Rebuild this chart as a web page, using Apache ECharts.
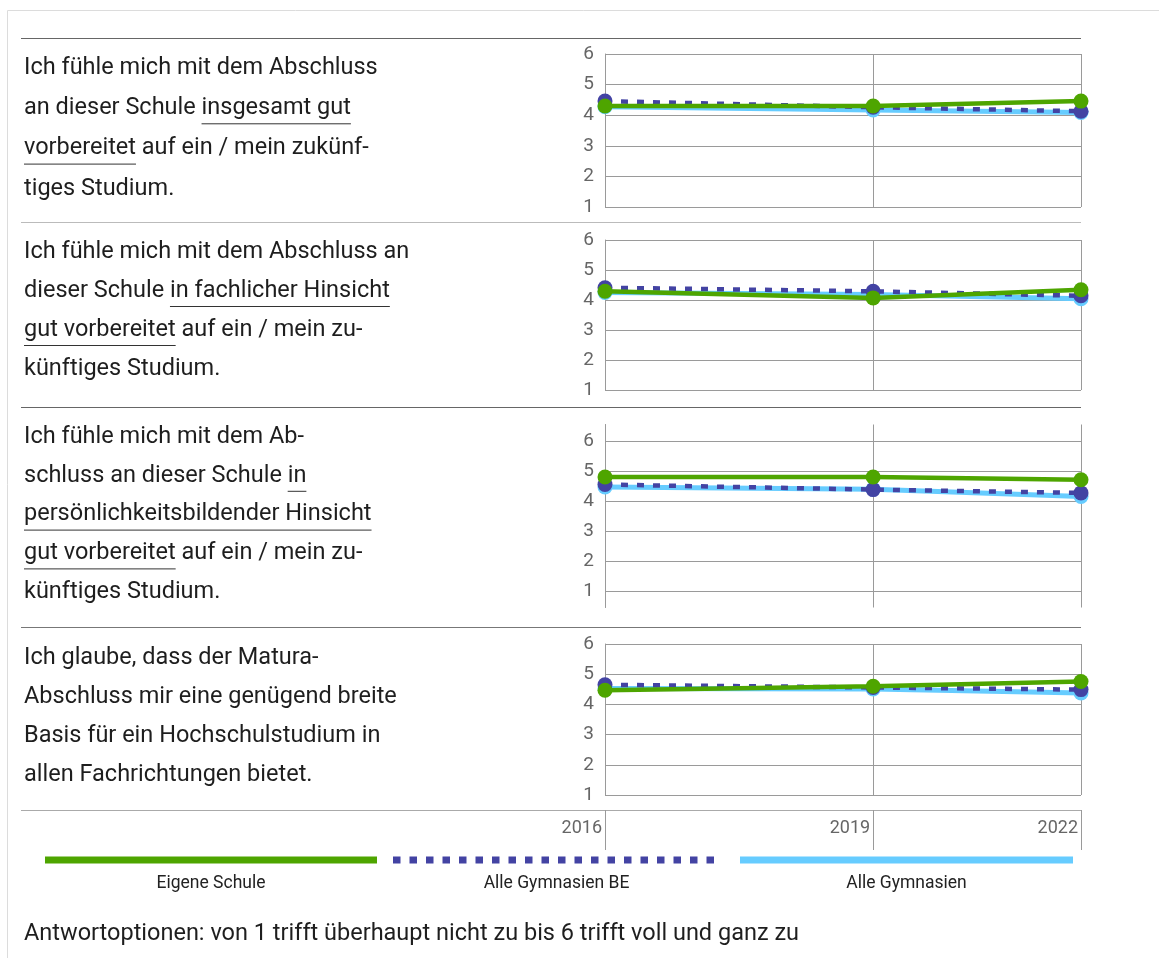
<!DOCTYPE html>
<html>
<head>
<meta charset="utf-8">
<script src="https://cdn.jsdelivr.net/npm/echarts@6/dist/echarts.min.js"></script>
<style>
  html, body { margin: 0; padding: 0; background: #fff; }
  #chart { width: 1159px; height: 958px; }
</style>
</head>
<body>
<div id="chart"></div>
<script>
// ---- data ----
const years = ["2016", "2019", "2022"];
const yearPos = [2016, 2019.38, 2022]; // where the survey points sit on the time line
const yTicks = [1, 2, 3, 4, 5, 6];
const seriesNames = ["Eigene Schule", "Alle Gymnasien BE", "Alle Gymnasien"];

// one row per question
const eigeneSchule = [
  [4.30, 4.30, 4.46],
  [4.29, 4.07, 4.34],
  [4.80, 4.80, 4.71],
  [4.47, 4.60, 4.76]
];
const gymnasienBE = [
  [4.46, 4.26, 4.13],
  [4.41, 4.29, 4.14],
  [4.55, 4.38, 4.27],
  [4.65, 4.56, 4.49]
];
const gymnasienAlle = [
  [4.28, 4.17, 4.09],
  [4.25, 4.18, 4.04],
  [4.47, 4.39, 4.15],
  [4.53, 4.51, 4.38]
];

// question text, lines of [text, underlined]
const questions = [
  [
    [["Ich fühle mich mit dem Abschluss", false]],
    [["an dieser Schule ", false], ["insgesamt gut", true]],
    [["vorbereitet", true], [" auf ein / mein zukünf-", false]],
    [["tiges Studium.", false]]
  ],
  [
    [["Ich fühle mich mit dem Abschluss an", false]],
    [["dieser Schule ", false], ["in fachlicher Hinsicht", true]],
    [["gut vorbereitet", true], [" auf ein / mein zu-", false]],
    [["künftiges Studium.", false]]
  ],
  [
    [["Ich fühle mich mit dem Ab-", false]],
    [["schluss an dieser Schule ", false], ["in", true]],
    [["persönlichkeitsbildender Hinsicht", true]],
    [["gut vorbereitet", true], [" auf ein / mein zu-", false]],
    [["künftiges Studium.", false]]
  ],
  [
    [["Ich glaube, dass der Matura-", false]],
    [["Abschluss mir eine genügend breite", false]],
    [["Basis für ein Hochschulstudium in", false]],
    [["allen Fachrichtungen bietet.", false]]
  ]
];
const footNote = "Antwortoptionen: von 1 trifft überhaupt nicht zu bis 6 trifft voll und ganz zu";

// ---- layout / style ----
const FONT = "Roboto";
const colGreen = "#4ea500";
const colBE = "#4343a3";
const colAll = "#66ccff";
const gridColor = "#9a9a9a";

const panels = [
  { top: 54, height: 153, textTop: 68, gap: 40.3 },
  { top: 240, height: 150, textTop: 252, gap: 39 },
  { top: 424.5, height: 183, textTop: 437, gap: 38.8, min: 0.45, max: 6.55 },
  { top: 644, height: 151, textTop: 658, gap: 39 }
];
const separators = [
  [38, "#666"],
  [222, "#bbb"],
  [407, "#666"],
  [627, "#777"],
  [810, "#aaa"]
];

var myChart = echarts.init(document.getElementById("chart"));

var grids = [], xAxes = [], yAxes = [], series = [], graphics = [];

panels.forEach(function (p, i) {
  var last = i === panels.length - 1;
  var custom = p.min !== undefined;
  grids.push({ left: 605, width: 476, top: p.top, height: p.height });
  xAxes.push({
    type: "value",
    gridIndex: i,
    min: 2016,
    max: 2022,
    offset: last ? 15 : 0,
    axisLine: { show: false },
    axisTick: {
      show: last,
      customValues: yearPos,
      length: 40,
      lineStyle: { color: gridColor }
    },
    axisLabel: {
      show: last,
      customValues: yearPos,
      margin: 9,
      align: "right",
      padding: [0, 3, 0, 0],
      color: "#666",
      fontSize: 18,
      fontFamily: FONT,
      formatter: function (v) {
        var k = yearPos.indexOf(v);
        return k >= 0 ? years[k] : "";
      }
    },
    splitLine: { show: true, lineStyle: { color: gridColor } }
  });
  var y = {
    type: "value",
    gridIndex: i,
    min: custom ? p.min : 1,
    max: custom ? p.max : 6,
    axisLine: { show: true, lineStyle: { color: gridColor } },
    axisTick: { show: false },
    axisLabel: { color: "#666", fontSize: 19, fontFamily: FONT, margin: 11 },
    splitLine: { show: true, lineStyle: { color: gridColor } }
  };
  if (custom) {
    y.axisTick.customValues = yTicks;
    y.axisLabel.customValues = yTicks;
  } else {
    y.interval = 1;
  }
  yAxes.push(y);

  var sets = [
    [gymnasienAlle, colAll, "solid", 5],
    [gymnasienBE, colBE, [7, 9], 4.5],
    [eigeneSchule, colGreen, "solid", 4.5]
  ];
  sets.forEach(function (s, k) {
    series.push({
      name: seriesNames[2 - k],
      type: "line",
      xAxisIndex: i,
      yAxisIndex: i,
      data: yearPos.map(function (x, j) {
        return [x, s[0][i][j]];
      }),
      symbol: "circle",
      symbolSize: 15,
      showSymbol: true,
      itemStyle: { color: s[1] },
      lineStyle: { color: s[1], type: s[2], width: s[3] },
      z: 2 + k,
      silent: true,
      animation: false
    });
  });
});

// question texts with underlines
var ctx = document.createElement("canvas").getContext("2d");
var textFont = "23.5px " + FONT;
ctx.font = textFont;
questions.forEach(function (q, i) {
  q.forEach(function (line, l) {
    var x = 24;
    var y = panels[i].textTop + l * panels[i].gap;
    line.forEach(function (seg) {
      var w = ctx.measureText(seg[0]).width;
      graphics.push({
        type: "text",
        x: x,
        y: y,
        style: { text: seg[0], font: textFont, fill: "#1e1e1e", verticalAlign: "middle" }
      });
      if (seg[1]) {
        graphics.push({
          type: "line",
          shape: { x1: x, y1: y + 15.5, x2: x + w, y2: y + 15.5 },
          style: { stroke: "#333", lineWidth: 1 }
        });
      }
      x += w;
    });
  });
});

// separators between the questions
separators.forEach(function (s) {
  graphics.push({
    type: "line",
    shape: { x1: 21, y1: s[0] + 0.5, x2: 1081, y2: s[0] + 0.5 },
    style: { stroke: s[1], lineWidth: 1 }
  });
});

// outer frame
graphics.push({
  type: "polyline",
  shape: { points: [[7.5, 958], [7.5, 10.5], [1159, 10.5]] },
  style: { stroke: "#dcdcdc", lineWidth: 1, fill: null }
});

// legend below the chart
var legendItems = [
  [45, 377, colGreen, null],
  [393, 720, colBE, [7.5, 9]],
  [740, 1073, colAll, null]
];
legendItems.forEach(function (it, k) {
  graphics.push({
    type: "line",
    shape: { x1: it[0], y1: 860, x2: it[1], y2: 860 },
    style: { stroke: it[2], lineWidth: 7, lineDash: it[3] }
  });
  graphics.push({
    type: "text",
    x: (it[0] + it[1]) / 2,
    y: 884,
    style: {
      text: seriesNames[k],
      font: "17.5px " + FONT,
      fill: "#222",
      align: "center",
      verticalAlign: "middle"
    }
  });
});

graphics.push({
  type: "text",
  x: 24,
  y: 934,
  style: { text: footNote, font: "23.5px " + FONT, fill: "#1e1e1e", verticalAlign: "middle" }
});

let option = {
  animation: false,
  textStyle: { fontFamily: FONT },
  grid: grids,
  xAxis: xAxes,
  yAxis: yAxes,
  series: series,
  graphic: graphics
};
myChart.setOption(option);
</script>
</body>
</html>
